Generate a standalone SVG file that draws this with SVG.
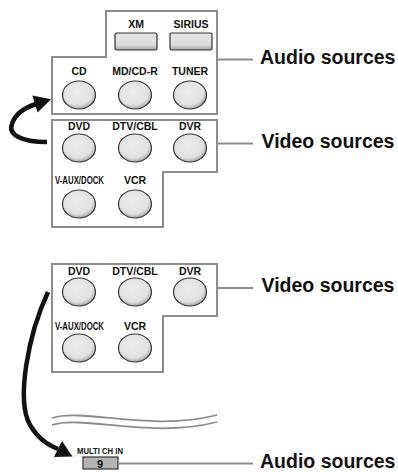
<svg xmlns="http://www.w3.org/2000/svg" width="398" height="472" viewBox="0 0 398 472">
  <defs>
    <radialGradient id="knob" cx="0.45" cy="0.4" r="0.6">
      <stop offset="0" stop-color="#ececec"/>
      <stop offset="0.75" stop-color="#e2e2e2"/>
      <stop offset="1" stop-color="#a8a8a8"/>
    </radialGradient>
    <linearGradient id="btn" x1="0" y1="0" x2="0" y2="1">
      <stop offset="0" stop-color="#e6e6e6"/>
      <stop offset="0.7" stop-color="#dcdcdc"/>
      <stop offset="1" stop-color="#a0a0a0"/>
    </linearGradient>
  </defs>
  <style>
    .box { fill: #ffffff; stroke: #8c8c8c; stroke-width: 2; }
    .knob { fill: url(#knob); stroke: #333333; stroke-width: 1.2; }
    .btn { fill: url(#btn); stroke: #333333; stroke-width: 1.2; }
    .lbl { font-family: "Liberation Sans", Arial, sans-serif; font-weight: bold; font-size: 10.5px; fill: #111111; text-anchor: middle; }
    .big { font-family: "Liberation Sans", Arial, sans-serif; font-weight: bold; font-size: 19.5px; fill: #111111; }
    .lead { stroke: #8c8c8c; stroke-width: 1.8; fill: none; }
    .arrow { stroke: #111111; stroke-width: 4.5; fill: none; }
    .head { fill: #111111; }
    .wave { stroke: #8c8c8c; stroke-width: 1.8; fill: none; }
  </style>

  <g id="audio-box">
    <path class="box" d="M52,57 H106 V11 H217 V114 H52 Z"/>
    <text class="lbl" x="136" y="28">XM</text>
    <rect class="btn" x="115" y="33" width="42" height="17" rx="1.5"/>
    <text class="lbl" x="191" y="28">SIRIUS</text>
    <rect class="btn" x="170" y="33" width="42" height="17" rx="1.5"/>
    <text class="lbl" x="79" y="75">CD</text>
    <ellipse class="knob" cx="79" cy="95" rx="16.5" ry="14"/>
    <text class="lbl" x="135" y="75">MD/CD-R</text>
    <ellipse class="knob" cx="135" cy="95" rx="16.5" ry="14"/>
    <text class="lbl" x="190" y="75">TUNER</text>
    <ellipse class="knob" cx="190" cy="95" rx="16.5" ry="14"/>
  </g>

  <g id="video-box-1">
    <path class="box" d="M52,120 H217 V172 H163 V227 H52 Z"/>
    <text class="lbl" x="79" y="130">DVD</text>
    <ellipse class="knob" cx="79" cy="148" rx="16.5" ry="14"/>
    <text class="lbl" x="135" y="130">DTV/CBL</text>
    <ellipse class="knob" cx="135" cy="148" rx="16.5" ry="14"/>
    <text class="lbl" x="190" y="130">DVR</text>
    <ellipse class="knob" cx="190" cy="148" rx="16.5" ry="14"/>
    <text class="lbl" x="79.5" y="184" textLength="49" lengthAdjust="spacingAndGlyphs">V-AUX/DOCK</text>
    <ellipse class="knob" cx="79" cy="204" rx="16.5" ry="14"/>
    <text class="lbl" x="135" y="184">VCR</text>
    <ellipse class="knob" cx="135" cy="204" rx="16.5" ry="14"/>
  </g>

  <g id="video-box-2">
    <path class="box" d="M52,264 H217 V316 H163 V372 H52 Z"/>
    <text class="lbl" x="79" y="275">DVD</text>
    <ellipse class="knob" cx="79" cy="292" rx="16.5" ry="14"/>
    <text class="lbl" x="135" y="275">DTV/CBL</text>
    <ellipse class="knob" cx="135" cy="292" rx="16.5" ry="14"/>
    <text class="lbl" x="190" y="275">DVR</text>
    <ellipse class="knob" cx="190" cy="292" rx="16.5" ry="14"/>
    <text class="lbl" x="79.5" y="330" textLength="49" lengthAdjust="spacingAndGlyphs">V-AUX/DOCK</text>
    <ellipse class="knob" cx="79" cy="348" rx="16.5" ry="14"/>
    <text class="lbl" x="135" y="330">VCR</text>
    <ellipse class="knob" cx="135" cy="348" rx="16.5" ry="14"/>
  </g>

  <g id="multi-ch-in">
    <text class="lbl" x="100" y="454" textLength="46" lengthAdjust="spacingAndGlyphs" style="font-size:9.5px">MULTI CH IN</text>
    <rect x="83" y="457" width="35" height="12" fill="#b4b4b4" stroke="#333333" stroke-width="1.2"/>
    <text class="lbl" x="100" y="467.5" style="font-size:11px">9</text>
  </g>

  <g id="break">
    <path class="wave" d="M52,418 C85,408 150,432 217,415"/>
    <path class="wave" d="M52,425 C85,415 150,439 217,422"/>
  </g>

  <g id="label-audio-1"><text class="big" x="260" y="64">Audio sources</text></g>
  <g id="label-video-1"><text class="big" x="261.5" y="148">Video sources</text></g>
  <g id="label-video-2"><text class="big" x="261.5" y="292">Video sources</text></g>
  <g id="label-audio-2"><text class="big" x="260" y="468">Audio sources</text></g>

  <g id="connectors">
    <line class="lead" x1="217" y1="59.5" x2="253" y2="59.5"/>
    <line class="lead" x1="217" y1="143.5" x2="253" y2="143.5"/>
    <line class="lead" x1="217" y1="288" x2="253" y2="288"/>
    <line class="lead" x1="118" y1="463.5" x2="253" y2="463.5"/>
    <path class="arrow" d="M47,142 C20,142 8,134 12,124 C15,114 24,108 36,104"/>
    <polygon class="head" points="51,99.3 32.4,95.4 37.6,112.6"/>
    <path class="arrow" d="M48,292 C28,335 16,400 30,425 C38,438 46,444 58,449"/>
    <polygon class="head" points="72.5,456.5 62,441 54,457"/>
  </g>
</svg>
